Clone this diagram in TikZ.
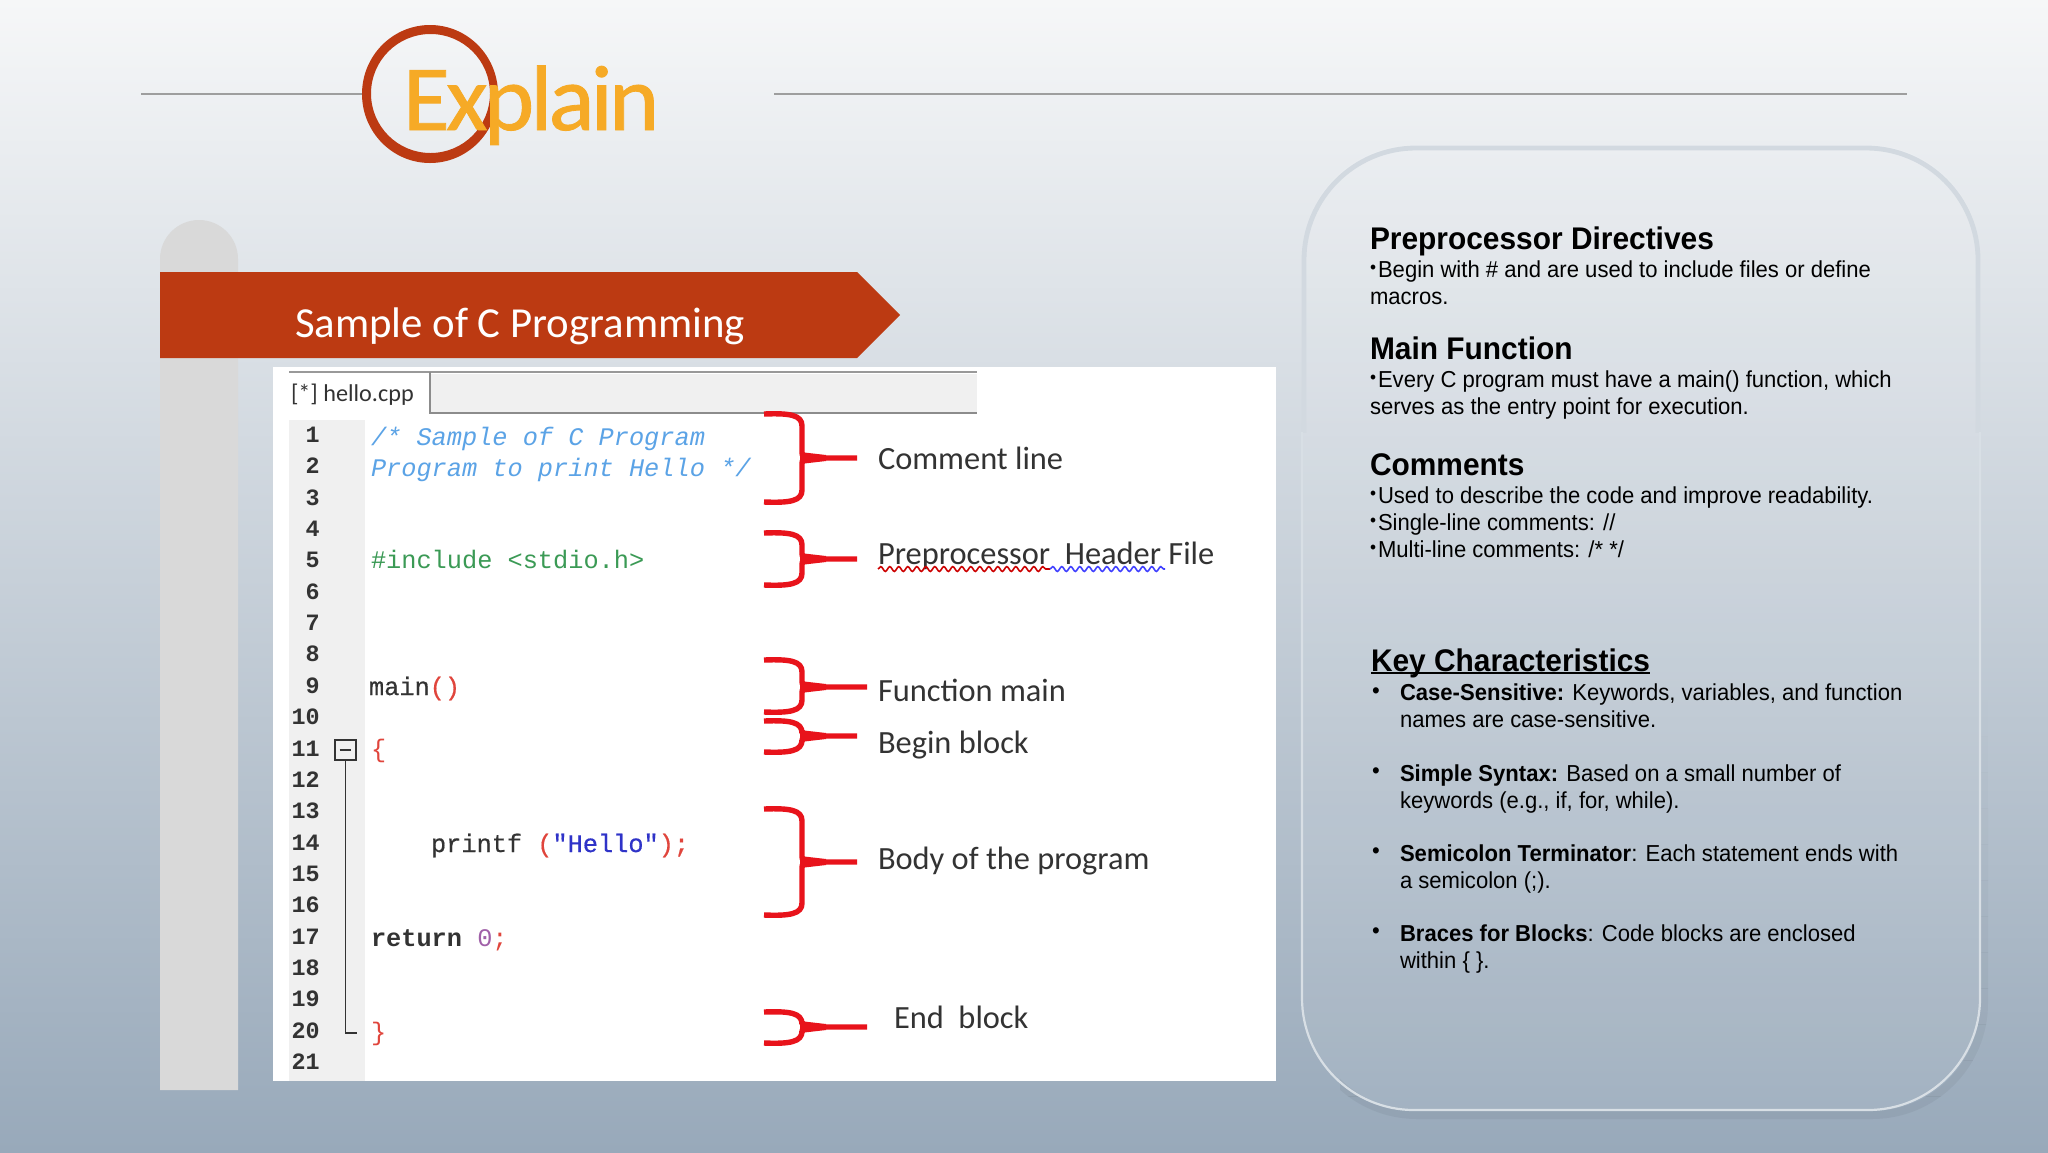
\documentclass[tikz,border=0pt]{standalone}
\usepackage{fontspec}
\usepackage{xcolor}
\usetikzlibrary{decorations.pathmorphing}
\setmainfont[FakeStretch=0.955]{Liberation Sans}
\newfontfamily\carl{Carlito}
\newfontfamily\titlef[LetterSpace=-4,FakeBold=0.9,FakeStretch=1.03]{Carlito}
\newfontfamily\codef{Liberation Mono}
\newfontfamily\codeh[FakeBold=0.5]{Liberation Mono}
\definecolor{rust}{HTML}{BC3A12}
\definecolor{amber}{HTML}{F6AA26}
\definecolor{bracered}{HTML}{E8131B}
\definecolor{cblue}{HTML}{5BA3E6}
\definecolor{cgreen}{HTML}{3B9A55}
\definecolor{cred}{HTML}{E0453C}
\definecolor{cstr}{HTML}{2F33C8}
\definecolor{cdark}{HTML}{333333}
\definecolor{cpurple}{HTML}{A060A8}
\definecolor{edgeA}{HTML}{D2D9E0}
\definecolor{edgeB}{HTML}{D8DFE5}
\newcommand{\sbul}{\makebox[4pt][l]{\raisebox{1.7pt}{\fontsize{9}{9}\selectfont\textbullet}}}
\newcommand{\bracemark}[4]{%
  \draw[bracestroke] (764,#1) .. controls (790,{#1-1}) and (802,{#1+1}) .. (802,{#1+12})
    -- (802,{#2-6}) .. controls (802,{#2-2}) and (803,#2) .. (808,#2) -- (#4,#2);
  \draw[bracestroke] (764,#3) .. controls (790,{#3+1}) and (802,{#3-1}) .. (802,{#3-12})
    -- (802,{#2+6}) .. controls (802,{#2+2}) and (803,#2) .. (808,#2);
  \fill[bracered] (800,{#2-6}) -- (826,{#2-3}) -- (826,{#2+3}) -- (800,{#2+6}) -- cycle;
}
\tikzset{
  bracestroke/.style={draw=bracered,line width=2.7pt},
  txt/.style={anchor=base west,inner sep=0pt,outer sep=0pt},
  head/.style={txt,font=\fontsize{15.65}{18}\selectfont\bfseries,text=black},
  body/.style={txt,font=\fontsize{11.55}{14}\selectfont,text=black},
  lab/.style={txt,font=\carl\fontsize{16.2}{18}\selectfont,text=cdark},
  code/.style={txt,font=\codef\fontsize{12.65}{15}\selectfont},
  codedark/.style={txt,font=\codeh\fontsize{12.65}{15}\selectfont,text=cdark},
  codeital/.style={txt,font=\codef\itshape\fontsize{12.65}{15}\selectfont,text=cblue},
  lnum/.style={anchor=base east,inner sep=0pt,font=\codef\bfseries\fontsize{11.7}{14}\selectfont,text=cdark},
  rule/.style={draw=black!38,line width=0.9pt},
  panelpath/.style={rounded corners=56pt},
  wavy/.style={line width=0.8pt,decorate,decoration={snake,amplitude=1.2pt,segment length=4.5pt}},
}
\begin{document}
\begin{tikzpicture}[x=0.5pt,y=-0.5pt]
\useasboundingbox (0,0) rectangle (2048,1152);
% background
\shade[top color={rgb,255:red,246;green,247;blue,248},middle color={rgb,255:red,198;green,207;blue,217},bottom color={rgb,255:red,152;green,169;blue,186}] (0,0) rectangle (2048,1152);
% title rules
\coordinate (ruleAa) at (141,94); \coordinate (ruleAb) at (362,94);
\coordinate (ruleBa) at (774,94); \coordinate (ruleBb) at (1907,94);
\draw[rule] (ruleAa) -- (ruleAb);
\draw[rule] (ruleBa) -- (ruleBb);
% title ring
\fill[rust,even odd rule] (430,94) ellipse [x radius=68,y radius=69] (430.5,93.5) ellipse [x radius=59.5,y radius=59.5];
\node[txt,font=\titlef\fontsize{46.5}{50}\selectfont,text=amber] (title) at (403,130) {Explain};
% left pillar and banner
\fill[black!15] (160,1090) [rounded corners=19.5pt] -- (160,220) -- (238,220) [sharp corners] -- (238,1090) -- cycle;
\fill[rust] (160,272) -- (857,272) -- (900,315) -- (857,358) -- (160,358) -- cycle;
\node[txt,font=\carl\fontsize{21.4}{24}\selectfont,text=white] (bannertext) at (295,337) {Sample of C Programming};
% screenshot
\fill[white] (273,367) rectangle (1276,1081);
\fill[black!6] (430,374) rectangle (977,412);
\draw[draw=black!40,line width=1.2pt] (289,372) -- (977,372);
\draw[draw=black!45,line width=1.2pt] (430,372) -- (430,413) -- (977,413);
\node[txt,font=\carl\fontsize{12.1}{15}\selectfont,text=cdark] (tab) at (291,401) {[*] hello.cpp};
\fill[black!6] (289,420) rectangle (365,1081);
\foreach \n in {1,...,21}{
  \node[lnum] (ln\n) at (320,{442.5+(\n-1)*31.35}) {\n};
}
\node[draw=cdark,line width=0.8pt,minimum width=10.5pt,minimum height=10pt,inner sep=0pt] (fold) at (345.5,750) {};
\draw[cdark,line width=0.8pt] (339.5,750) -- (351,750);
\coordinate (foldend) at (357,1033);
\draw[cdark,line width=0.8pt] (fold.south) |- (foldend);
\node[codeital] (c1) at (371,445) {/* Sample of C Program};
\node[codeital] (c2) at (371,476) {Program to print Hello */};
\node[code,text=cgreen] (c3) at (371,568) {\#include <stdio.h>};
\node[codedark] (c4) at (369,695) {main{\color{cred}()}};
\node[code,text=cred] (c5) at (371,757) {\{};
\node[codedark] (c6) at (431,852) {printf {\color{cred}(}{\color{cstr}"Hello"}{\color{cred});}};
\node[codedark,font=\codef\bfseries\fontsize{12.65}{15}\selectfont] (c7) at (371,946) {return {\mdseries\color{cpurple}0}{\mdseries\color{cred};}};
\node[code,text=cred] (c8) at (371,1040) {\}};
% red braces
\bracemark{414}{458}{502}{857}
\bracemark{533}{559}{585}{857}
\bracemark{660}{687}{712}{867}
\bracemark{721}{736}{752}{857}
\bracemark{809}{862}{915}{857}
\bracemark{1012}{1027}{1043}{867}
% labels
\node[lab] (l1) at (878,469) {Comment line};
\node[lab] (l2) at (878,564) {Preprocessor\ \ Header File};
\node[lab] (l3) at (878,701) {Function main};
\node[lab] (l4) at (878,753) {Begin block};
\node[lab] (l5) at (878,869) {Body of the program};
\node[lab] (l6) at (894,1028) {End\ \ block};
\coordinate (wa) at (878,569); \coordinate (wb) at (1050,569); \coordinate (wc) at (1165,569);
\draw[draw=red!80!black,wavy] (wa) -- (wb);
\draw[draw=blue!75,wavy] (wb) -- (wc);
% right panel: soft shadow growing towards the lower right
\foreach \s in {0,...,11}{
  \begin{scope}
  \clip (1340,{700+\s*36}) rectangle (2010,{700+(\s+1)*36});
  \pgfmathsetmacro{\o}{0.004*(\s+1)}
  \draw[panelpath,black,opacity=\o,line width=4pt] (1305,149) rectangle (1984,1115);
  \end{scope}
}
\fill[panelpath,white,opacity=0.08] (1302,145) rectangle (1980,1110);
\begin{scope}
  \clip (1290,130) rectangle (2000,432);
  \draw[panelpath,draw=edgeA,line width=2.4pt] (1304,148) rectangle (1978,1108);
\end{scope}
\begin{scope}
  \clip (1290,432) rectangle (2000,1130);
  \draw[panelpath,draw=edgeB,line width=1.1pt] (1302,145) rectangle (1980,1110);
\end{scope}
% right panel text
\node[head] (h1) at (1370,249) {Preprocessor Directives};
\node[body] (b1a) at (1370,277) {\sbul Begin with \# and are used to include files or define};
\node[body] (b1b) at (1370,304) {macros.};
\node[head] (h2) at (1370,359) {Main Function};
\node[body] (b2a) at (1370,387) {\sbul Every C program must have a main() function, which};
\node[body] (b2b) at (1370,414) {serves as the entry point for execution.};
\node[head] (h3) at (1370,475) {Comments};
\node[body] (b3a) at (1370,503) {\sbul Used to describe the code and improve readability.};
\node[body] (b3b) at (1370,530) {\sbul Single-line comments: //};
\node[body] (b3c) at (1370,557) {\sbul Multi-line comments: /* */};
\node[head] (h4) at (1371,671) {Key Characteristics};
\draw[black,line width=0.9pt] ([yshift=-1.1pt]h4.base west) -- ([yshift=-1.1pt]h4.base east);
\node[body] (k1) at (1372,698) {\textbullet};
\node[body] (k1a) at (1400,700) {\textbf{Case-Sensitive:} Keywords, variables, and function};
\node[body] (k1b) at (1400,727) {names are case-sensitive.};
\node[body] (k2) at (1372,778) {\textbullet};
\node[body] (k2a) at (1400,781) {\textbf{Simple Syntax:} Based on a small number of};
\node[body] (k2b) at (1400,808) {keywords (e.g., if, for, while).};
\node[body] (k3) at (1372,858) {\textbullet};
\node[body] (k3a) at (1400,861) {\textbf{Semicolon Terminator}: Each statement ends with};
\node[body] (k3b) at (1400,888) {a semicolon (;).};
\node[body] (k4) at (1372,938) {\textbullet};
\node[body] (k4a) at (1400,941) {\textbf{Braces for Blocks}: Code blocks are enclosed};
\node[body] (k4b) at (1400,968) {within \{ \}.};
\end{tikzpicture}
\end{document}
